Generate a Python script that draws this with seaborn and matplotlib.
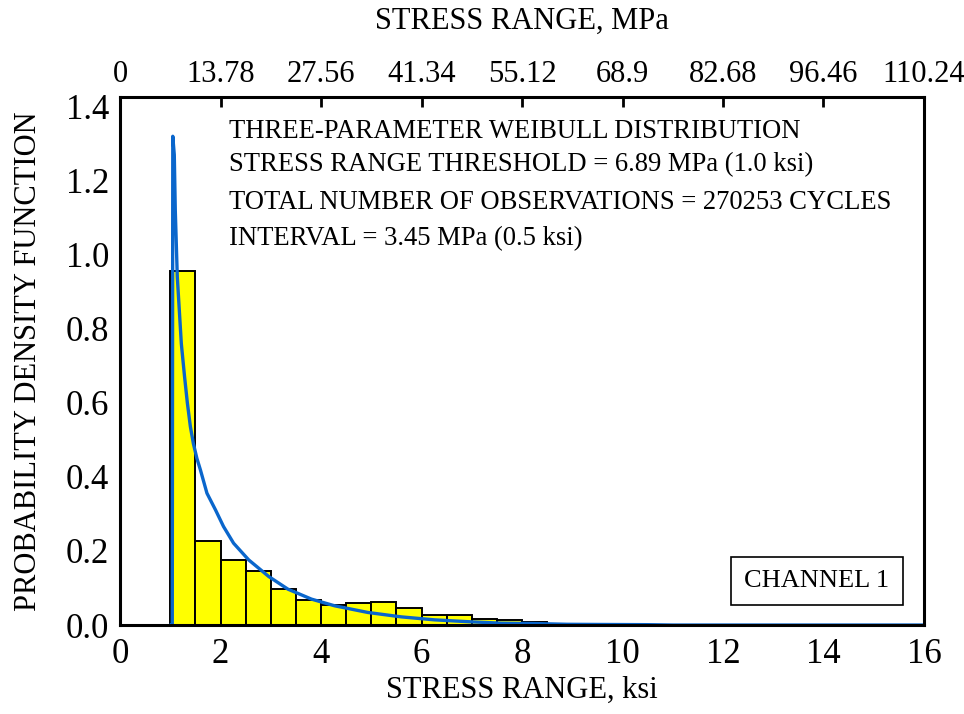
import numpy as np
import pandas as pd
import matplotlib
matplotlib.use("Agg")
import matplotlib.pyplot as plt
import seaborn as sns

# Histogram of stress-range cycles (ksi), 0.5 ksi bins starting at the 1.0 ksi threshold
bin_edges = [1.0, 1.5, 2.0, 2.5, 3.0, 3.5, 4.0, 4.5, 5.0, 5.5, 6.0, 6.5, 7.0, 7.5, 8.0, 8.5]
bin_density = [0.955, 0.226, 0.175, 0.147, 0.097, 0.068, 0.053, 0.059, 0.063,
               0.046, 0.026, 0.026, 0.017, 0.013, 0.008]

# Fitted three-parameter Weibull density
curve_x = [1.0, 1.04, 1.05, 1.08, 1.10, 1.14, 1.18, 1.22, 1.285, 1.34, 1.40, 1.46,
           1.53, 1.60, 1.73, 1.90, 2.06, 2.26, 2.56, 2.96, 3.34, 3.81,
           4.27, 4.93, 5.6, 6.26, 6.93, 7.59, 8.25, 8.9, 9.6, 10.5, 11.0, 16.0]
curve_y = [0.0, 0.0, 1.32, 1.27, 1.12, 0.94, 0.85, 0.76, 0.67, 0.60, 0.536, 0.49,
           0.45, 0.419, 0.356, 0.311, 0.266, 0.221, 0.176, 0.131, 0.097,
           0.07, 0.052, 0.034, 0.022, 0.014, 0.009, 0.005, 0.004, 0.002, 0.0015,
           0.001, 0.0, 0.0]

ksi_ticks = [0, 2, 4, 6, 8, 10, 12, 14, 16]
mpa_labels = ["0", "13.78", "27.56", "41.34", "55.12", "68.9", "82.68", "96.46", "110.24"]
y_ticks = [0.0, 0.2, 0.4, 0.6, 0.8, 1.0, 1.2, 1.4]

info_lines = [
    "THREE-PARAMETER WEIBULL DISTRIBUTION",
    "STRESS RANGE THRESHOLD = 6.89 MPa (1.0 ksi)",
    "TOTAL NUMBER OF OBSERVATIONS = 270253 CYCLES",
    "INTERVAL = 3.45 MPa (0.5 ksi)",
]

sns.set_theme(style="white")
plt.rcParams["font.family"] = ["Liberation Serif", "DejaVu Serif"]
plt.rcParams["text.color"] = "black"
plt.rcParams["axes.labelcolor"] = "black"
plt.rcParams["xtick.color"] = "black"
plt.rcParams["ytick.color"] = "black"

fig = plt.figure(figsize=(9.64, 7.14), dpi=100)
ax = fig.add_axes([0.1245, 0.1246, 0.834, 0.7395])

centers = [(a + b) / 2 for a, b in zip(bin_edges[:-1], bin_edges[1:])]
hist_df = pd.DataFrame({"stress": centers, "density": bin_density})
sns.histplot(data=hist_df, x="stress", weights="density", bins=bin_edges,
             stat="count", color="#FFFF00", edgecolor="black", linewidth=1.4,
             alpha=1.0, ax=ax)

curve_df = pd.DataFrame({"stress": curve_x, "pdf": curve_y})
sns.lineplot(data=curve_df, x="stress", y="pdf", sort=False, estimator=None,
             color="#0A66CC", linewidth=2.4, ax=ax)

ax.set_xlim(0, 16)
ax.set_ylim(0, 1.426)
ax.set_xticks(ksi_ticks)
ax.set_xticklabels([str(t) for t in ksi_ticks])
ax.set_yticks(y_ticks)
ax.set_yticklabels([f"{t:.1f}" for t in y_ticks])
ax.tick_params(axis="both", direction="in", length=7, width=2, labelsize=25,
               colors="black")
ax.tick_params(axis="y", pad=8)
ax.tick_params(axis="x", pad=9)
ax.set_xlabel("STRESS RANGE, ksi", fontsize=22, labelpad=4, color="black")
ax.set_ylabel("PROBABILITY DENSITY FUNCTION", fontsize=22, labelpad=16, color="black")
for s in ax.spines.values():
    s.set_color("black")
    s.set_linewidth(2.2)

top = ax.secondary_xaxis("top")
top.set_xticks(ksi_ticks)
top.set_xticklabels(mpa_labels)
top.tick_params(direction="in", length=7, width=2, labelsize=22, pad=6,
                colors="black")
top.set_xlabel("STRESS RANGE, MPa", fontsize=22, labelpad=22, color="black")

info_y = [1.334, 1.243, 1.14, 1.043]
for line, yy in zip(info_lines, info_y):
    ax.text(2.17, yy, line, fontsize=19.2, va="center", ha="left", color="black")

ax.text(13.87, 0.119, "CHANNEL 1", fontsize=19, ha="center", va="center",
        color="black",
        bbox=dict(boxstyle="square,pad=0.5", facecolor="white",
                  edgecolor="black", linewidth=1.2))

fig.savefig("out.png", dpi=100)
